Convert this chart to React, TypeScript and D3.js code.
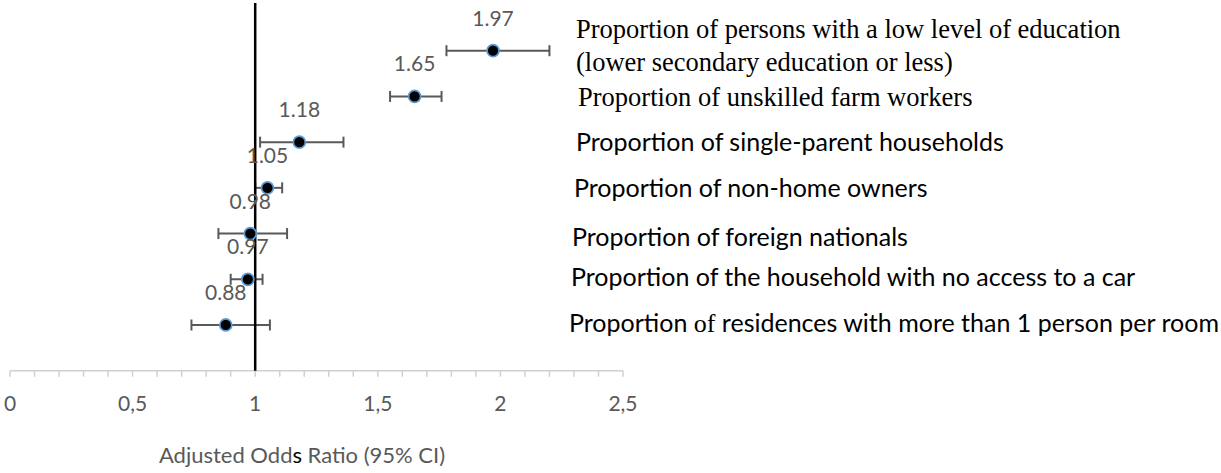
import React from 'react';
import * as d3 from 'd3';

// forest plot: adjusted odds ratios with 95% CI
const labels = [
  'Proportion of persons with a low level of education',
  'Proportion of unskilled farm workers',
  'Proportion of single-parent households',
  'Proportion of non-home owners',
  'Proportion of foreign nationals',
  'Proportion of the household with no access to a car',
  'Proportion of residences with more than 1 person per room',
];
const oddsRatios = [1.97, 1.65, 1.18, 1.05, 0.98, 0.97, 0.88];
const ciLower = [1.78, 1.55, 1.02, 1.0, 0.85, 0.9, 0.74];
const ciUpper = [2.2, 1.76, 1.36, 1.11, 1.13, 1.03, 1.06];
const xTicks = [0, 0.5, 1, 1.5, 2, 2.5];

const W = 1221;
const H = 473;
const grey = '#595959';
const sans = 'Lato, "Open Sans", sans-serif';
const serif = '"Liberation Serif", "Times New Roman", serif';

// text boxes on the right sit a little off the rows
const labelX = [576, 578, 576, 574, 572, 571, 569];
const labelDy = [0, 0.5, 0, 0, 3, -2, -2];

const App: React.FC = () => {
  const x = d3.scaleLinear().domain([0, 2.5]).range([10, 623]);
  // rows are placed at y = 7..1, the axis at 0
  const y = d3.scaleLinear().domain([0, 8]).range([370.7, 5]);
  const rowY = (i: number) => y(oddsRatios.length - i);
  const minorTicks = d3.range(0, 25.5).map((d) => d / 10);

  return (
    <svg width={W} height={H} style={{ position: 'absolute', left: 0, top: 0, background: '#fff' }}>
      {/* x axis */}
      <g>
        <line x1={x(0)} x2={x(2.5)} y1={y(0)} y2={y(0)} stroke="#d0d0d0" strokeWidth={1.5} />
        {minorTicks.map((t) => (
          <line key={t} x1={x(t)} x2={x(t)} y1={y(0)} y2={y(0) + 6} stroke="#d0d0d0" strokeWidth={1.5} />
        ))}
        {xTicks.map((t) => (
          <text key={t} x={x(t)} y={y(0) + 40} textAnchor="middle" fontFamily={sans} fontSize={21} fill={grey}>
            {String(t).replace('.', ',')}
          </text>
        ))}
        <text x={302} y={463} textAnchor="middle" fontFamily={sans} fontSize={22} fill={grey}>
          Adjusted Odd<tspan fill="#000">s</tspan> Ratio (95% CI)
        </text>
      </g>

      {/* error bars */}
      {oddsRatios.map((d, i) => {
        const cy = rowY(i);
        return (
          <g key={'e' + i} stroke={grey} strokeWidth={2}>
            <line x1={x(ciLower[i])} x2={x(ciUpper[i])} y1={cy} y2={cy} />
            <line x1={x(ciLower[i])} x2={x(ciLower[i])} y1={cy - 5.5} y2={cy + 5.5} />
            <line x1={x(ciUpper[i])} x2={x(ciUpper[i])} y1={cy - 5.5} y2={cy + 5.5} />
          </g>
        );
      })}

      {/* reference line at OR = 1 */}
      <line x1={x(1)} x2={x(1)} y1={y(8) - 2} y2={y(0)} stroke="#000" strokeWidth={2.5} />

      {/* points and value labels */}
      {oddsRatios.map((d, i) => (
        <g key={'p' + i}>
          <circle cx={x(d)} cy={rowY(i)} r={6} fill="#000" stroke="#5b9bd5" strokeWidth={1.75} />
          <text x={x(d)} y={rowY(i) - 25} textAnchor="middle" fontFamily={sans} fontSize={21} fill={grey}>
            {d.toFixed(2)}
          </text>
        </g>
      ))}

      {/* row labels */}
      <text x={labelX[0]} y={rowY(0) - 21.7 + 9} fontFamily={serif} fontSize={26.5} fill="#000">
        {labels[0]}
      </text>
      <text x={labelX[0]} y={rowY(0) + 11.3 + 9} fontFamily={serif} fontSize={26.5} fill="#000">
        (lower secondary education or less)
      </text>
      <text x={labelX[1]} y={rowY(1) + labelDy[1] + 9} fontFamily={serif} fontSize={26.5} fill="#000">
        {labels[1]}
      </text>
      {labels.slice(2).map((l, k) => {
        const i = k + 2;
        const yy = rowY(i) + labelDy[i] + 9;
        if (i === 6) {
          const [first, ...rest] = l.split(' of ');
          return (
            <text key={i} x={labelX[i]} y={yy} fontFamily={sans} fontSize={25} fill="#000">
              {first + ' '}
              <tspan fontFamily={serif} fontSize={26}>of</tspan>
              {' ' + rest.join(' of ')}
            </text>
          );
        }
        return (
          <text key={i} x={labelX[i]} y={yy} fontFamily={sans} fontSize={25} fill="#000">
            {l}
          </text>
        );
      })}
    </svg>
  );
};

export default App;
